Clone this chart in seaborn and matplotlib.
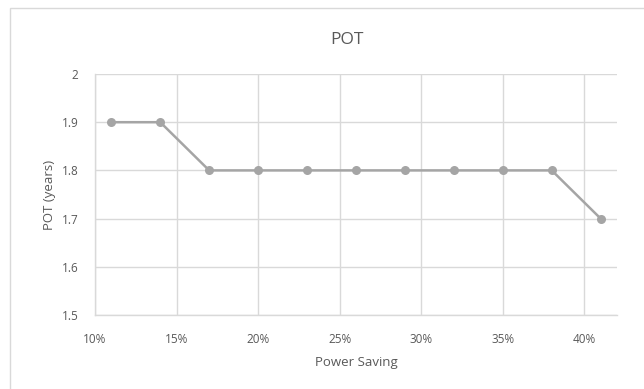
import matplotlib
matplotlib.use("Agg")
import matplotlib.pyplot as plt
import seaborn as sns
import pandas as pd
from matplotlib.patches import Rectangle
from matplotlib.ticker import FuncFormatter, MultipleLocator

power_saving = [0.11, 0.14, 0.17, 0.20, 0.23, 0.26, 0.29, 0.32, 0.35, 0.38, 0.41]
pot_years = [1.9, 1.9, 1.8, 1.8, 1.8, 1.8, 1.8, 1.8, 1.8, 1.8, 1.7]

df = pd.DataFrame({"Power Saving": power_saving, "POT (years)": pot_years})

sns.set_theme(style="white")
plt.rcParams['font.family'] = ['Open Sans', 'DejaVu Sans']
text_color = "#595959"
grid_color = "#d9d9d9"
line_color = "#a5a5a5"

fig = plt.figure(figsize=(6.44, 3.89), dpi=100)
fig.patches.append(Rectangle((10/644, -0.1), 1.0, 1 - 8/389 + 0.1, transform=fig.transFigure,
                             fill=False, edgecolor="#d9d9d9", linewidth=1.0))
ax = fig.add_axes([95/644, 1 - 315/389, (617 - 95)/644, (315 - 74)/389])

sns.lineplot(data=df, x="Power Saving", y="POT (years)", ax=ax, color=line_color,
             linewidth=1.8, marker="o", markersize=6.5, markeredgewidth=0,
             markerfacecolor=line_color)

ax.set_xlim(0.10, 0.42)
ax.set_ylim(1.5, 2.0)
ax.xaxis.set_major_locator(MultipleLocator(0.05))
ax.yaxis.set_major_locator(MultipleLocator(0.1))
ax.xaxis.set_major_formatter(FuncFormatter(lambda v, p: f"{v*100:.0f}%"))
ax.yaxis.set_major_formatter(FuncFormatter(lambda v, p: f"{v:g}"))
ax.grid(True, color=grid_color, linewidth=1.0)
ax.set_axisbelow(True)
for s in ["top", "right"]:
    ax.spines[s].set_visible(False)
for s in ["left", "bottom"]:
    ax.spines[s].set_color(grid_color)
    ax.spines[s].set_linewidth(1.0)
ax.tick_params(axis="x", length=0, labelsize=8.5, colors=text_color, pad=13)
ax.tick_params(axis="y", length=0, labelsize=8.5, colors=text_color, pad=12)

ax.set_xlabel("Power Saving", fontsize=9.5, color=text_color, labelpad=7)
ax.set_ylabel("POT (years)", fontsize=9.5, color=text_color, labelpad=4)
fig.text(347/644, 1 - 40/389, "POT", ha="center", va="center", fontsize=12.5, color=text_color)

fig.savefig("out.png", dpi=100, facecolor="white")
